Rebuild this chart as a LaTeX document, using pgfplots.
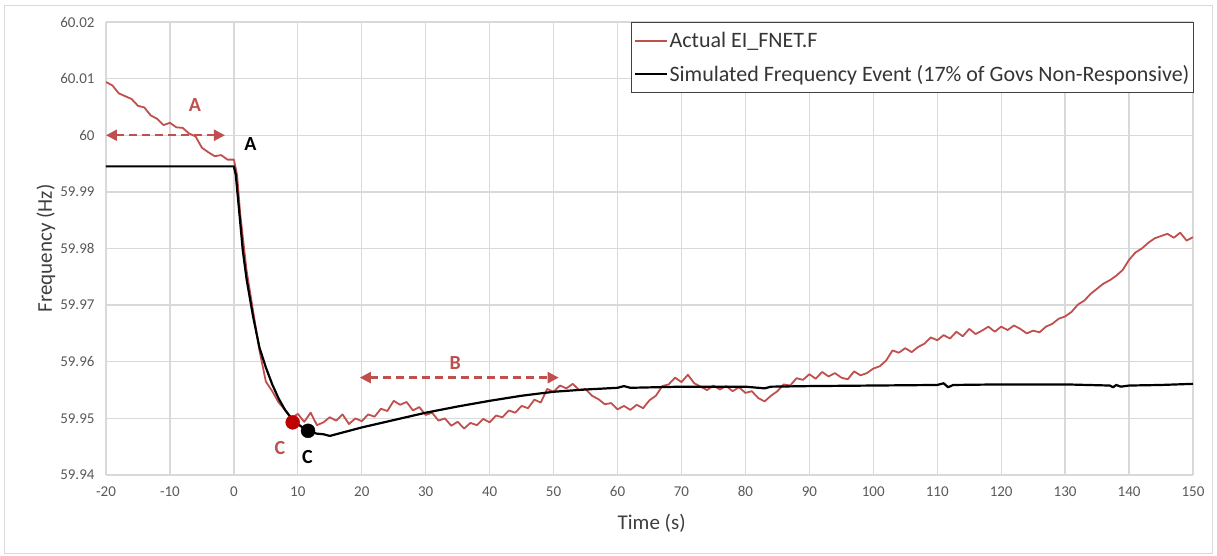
\documentclass[border=0pt]{standalone}
\usepackage{pgfplots}
\pgfplotsset{compat=1.18}
\usepackage{fontspec}
\setmainfont{Carlito}
\usetikzlibrary{arrows.meta}
\definecolor{actred}{HTML}{C0504D}
\definecolor{annred}{HTML}{C0504D}
\definecolor{dotred}{HTML}{C00000}
\definecolor{gridgray}{HTML}{D9D9D9}
\definecolor{txtgray}{HTML}{595959}

\pgfplotstableread{
x y
-20 60.0094
-19 60.0088
-18 60.0074
-17 60.0069
-16 60.0064
-15 60.0052
-14 60.0049
-13 60.0035
-12 60.0029
-11 60.0018
-10 60.0022
-9 60.0014
-8 60.0013
-7 60.0003
-6 59.9998
-5 59.9978
-4 59.9970
-3 59.9963
-2 59.9965
-1 59.9957
0 59.9957
0.5 59.9930
1 59.9860
2 59.9760
3 59.9690
4 59.9620
5 59.9565
6 59.9548
7 59.9528
8 59.9515
9 59.9500
10 59.9508
11 59.9494
12 59.9510
13 59.9488
14 59.9493
15 59.9502
16 59.9496
17 59.9507
18 59.9490
19 59.9500
20 59.9495
21 59.9507
22 59.9503
23 59.9517
24 59.9513
25 59.9531
26 59.9524
27 59.9529
28 59.9514
29 59.9520
30 59.9506
31 59.9510
32 59.9496
33 59.9500
34 59.9487
35 59.9494
36 59.9482
37 59.9492
38 59.9488
39 59.9499
40 59.9493
41 59.9505
42 59.9502
43 59.9514
44 59.9510
45 59.9522
46 59.9518
47 59.9533
48 59.9528
49 59.9552
50 59.9547
51 59.9558
52 59.9553
53 59.9561
54 59.9550
55 59.9552
56 59.9540
57 59.9534
58 59.9525
59 59.9527
60 59.9516
61 59.9522
62 59.9515
63 59.9524
64 59.9518
65 59.9532
66 59.9540
67 59.9557
68 59.9560
69 59.9572
70 59.9564
71 59.9577
72 59.9562
73 59.9556
74 59.9550
75 59.9558
76 59.9551
77 59.9557
78 59.9548
79 59.9555
80 59.9545
81 59.9548
82 59.9536
83 59.9530
84 59.9540
85 59.9548
86 59.9560
87 59.9558
88 59.9571
89 59.9568
90 59.9578
91 59.9570
92 59.9582
93 59.9574
94 59.9580
95 59.9572
96 59.9569
97 59.9583
98 59.9576
99 59.9580
100 59.9588
101 59.9592
102 59.9602
103 59.9620
104 59.9616
105 59.9624
106 59.9617
107 59.9626
108 59.9632
109 59.9643
110 59.9638
111 59.9647
112 59.9641
113 59.9653
114 59.9645
115 59.9658
116 59.9649
117 59.9655
118 59.9662
119 59.9653
120 59.9662
121 59.9656
122 59.9664
123 59.9658
124 59.9650
125 59.9655
126 59.9652
127 59.9662
128 59.9667
129 59.9676
130 59.9680
131 59.9688
132 59.9701
133 59.9708
134 59.9720
135 59.9729
136 59.9738
137 59.9744
138 59.9752
139 59.9762
140 59.9780
141 59.9793
142 59.9800
143 59.9810
144 59.9818
145 59.9822
146 59.9826
147 59.9819
148 59.9828
149 59.9814
150 59.9820
}\actual

\pgfplotstableread{
x y
-20 59.9945
0 59.9945
0.3 59.9930
1 59.9845
1.4 59.9796
2 59.9745
3 59.9680
4 59.9625
5 59.9590
6 59.9560
7 59.9535
8 59.9515
9 59.9500
10 59.9490
11 59.9482
12 59.9476
13 59.9473
14 59.9472
15 59.9469
17 59.9475
20 59.9484
25 59.9497
30 59.9510
35 59.9521
40 59.9531
45 59.9540
50 59.9547
55 59.9551
60 59.9554
61 59.9557
62 59.9554
70 59.9556
80 59.9556
83 59.9553
84 59.9556
90 59.9557
100 59.9558
110 59.9559
111 59.9562
111.7 59.9555
112.5 59.9559
120 59.9560
130 59.9560
137 59.9558
137.5 59.9555
138 59.9559
138.7 59.9556
140 59.9558
145 59.9559
150 59.9561
}\simulated

\begin{document}
\begin{tikzpicture}
\path[use as bounding box] (-106pt,-80pt) rectangle (1111pt,475pt);
\draw[gridgray, line width=1pt] (-101pt,-78pt) rectangle (1106pt,469pt);
\begin{axis}[
  scale only axis,
  width=1087pt, height=453pt,
  xmin=-20, xmax=150, ymin=59.94, ymax=60.02,
  xtick={-20,-10,...,150},
  ytick={59.94,59.95,...,60.02},
  yticklabels={59.94,59.95,59.96,59.97,59.98,59.99,60,60.01,60.02},
  grid=major,
  major grid style={gridgray, line width=1.3pt},
  axis line style={draw=none},
  tick style={draw=none},
  /pgf/number format/assume math mode=true,
  ticklabel style={font=\fontsize{15}{18}\selectfont, text=txtgray},
  xticklabel style={yshift=-8pt},
  yticklabel style={xshift=-8pt},
  xlabel={Time (s)},
  ylabel={Frequency (Hz)},
  label style={font=\fontsize{21}{25}\selectfont, text=txtgray!70!black},
  xlabel style={at={(axis description cs:0.502,0)}, anchor=center, yshift=-48pt},
  ylabel style={at={(axis description cs:0,0.5)}, anchor=center, rotate=0, yshift=60pt},
  legend style={at={(1.001,1.001)}, anchor=north east, draw=black!75, line width=1.3pt,
    font=\fontsize{22}{26}\selectfont, fill=white, inner xsep=2pt, inner ysep=8pt,
    row sep=12pt, text=txtgray!60!black},
  legend cell align=left,
  legend image code/.code={\draw[#1, line width=2pt] (0pt,0pt) -- (32pt,0pt);},
]
\addplot[actred, line width=1.8pt, line join=round] table {\actual};
\addlegendentry{Actual EI\_FNET.F}
\addplot[black, line width=2.2pt, line join=round] table {\simulated};
\addlegendentry{Simulated Frequency Event (17\% of Govs Non-Responsive)}
\addplot[annred, line width=2.4pt, dash pattern=on 8pt off 5pt, {Triangle[length=11pt,width=11pt]}-{Triangle[length=11pt,width=11pt]}, forget plot] coordinates {(-20,60) (-1.4,60)};
\addplot[annred, line width=2.4pt, dash pattern=on 8pt off 5pt, {Triangle[length=11pt,width=11pt]}-{Triangle[length=11pt,width=11pt]}, forget plot] coordinates {(19.7,59.9572) (50.8,59.9572)};
\addplot[only marks, mark=*, mark size=7pt, dotred, mark options={draw=dotred}, forget plot] coordinates {(9.2,59.9493)};
\addplot[only marks, mark=*, mark size=7pt, black, forget plot] coordinates {(11.6,59.9478)};
\node[text=annred, font=\fontsize{20}{24}\selectfont\bfseries] at (axis cs:-6.1,60.0053) {A};
\node[text=black, font=\fontsize{20}{24}\selectfont\bfseries] at (axis cs:2.6,59.9985) {A};
\node[text=annred, font=\fontsize{20}{24}\selectfont\bfseries] at (axis cs:34.6,59.9598) {B};
\node[text=annred, font=\fontsize{20}{24}\selectfont\bfseries] at (axis cs:7.2,59.9447) {C};
\node[text=black, font=\fontsize{20}{24}\selectfont\bfseries] at (axis cs:11.5,59.9431) {C};
\end{axis}
\end{tikzpicture}
\end{document}
